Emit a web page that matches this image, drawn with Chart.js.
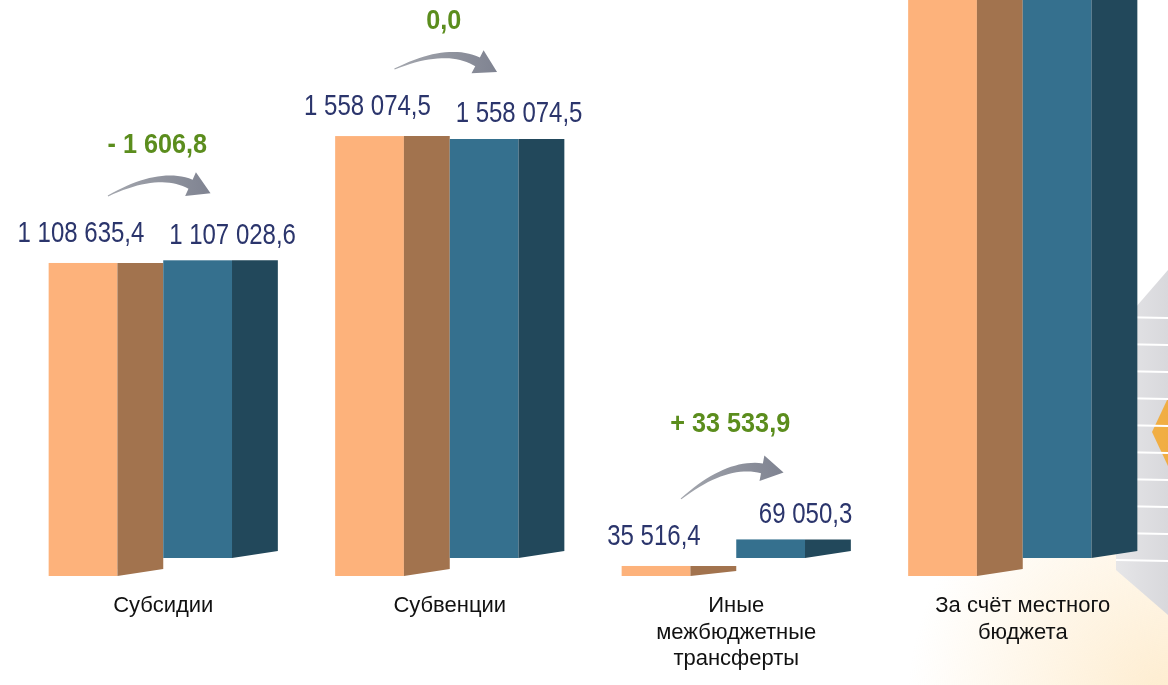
<!DOCTYPE html>
<html>
<head>
<meta charset="utf-8">
<script src="https://cdn.jsdelivr.net/npm/chart.js@4.4.1/dist/chart.umd.min.js"></script>
<style>
  html, body { margin: 0; padding: 0; background: #fff; }
  #wrap { width: 1168px; height: 685px; position: relative; }
</style>
</head>
<body>
<div id="wrap"><canvas id="budgetChart"></canvas></div>
<script>
// categories and values (тыс. руб.)
const categories = [
    ['Субсидии'],
    ['Субвенции'],
    ['Иные', 'межбюджетные', 'трансферты'],
    ['За счёт местного', 'бюджета']
];
const initialValues = [1108635.4, 1558074.5, 35516.4, 2300000];
const revisedValues = [1107028.6, 1558074.5, 69050.3, 2250000];
// last category runs off the top of the slide, no labels shown
const showLabels = [true, true, true, false];

const fmt = v => {
    const s = Math.abs(v).toFixed(1).split('.');
    return s[0].replace(/\B(?=(\d{3})+(?!\d))/g, ' ') + ',' + s[1];
};
const fmtDiff = v => (v > 0 ? '+ ' : v < 0 ? '- ' : '') + fmt(v);

const faces = [
    { front: '#fdb27b', side: '#a2734e' },
    { front: '#35708e', side: '#22485b' }
];

function drawArrow(ctx, x0, y0, x1, y1) {
    const dx = x1 - x0, dy = y1 - y0, len = Math.hypot(dx, dy);
    const nx = dy / len, ny = -dx / len;
    const cx = (x0 + x1) / 2 + nx * 25, cy = (y0 + y1) / 2 + ny * 25;
    let tx = x1 - cx, ty = y1 - cy;
    const tl = Math.hypot(tx, ty); tx /= tl; ty /= tl;
    const ex = x1 - tx * 22, ey = y1 - ty * 22;
    const up = [], lo = [];
    for (let i = 0; i <= 20; i++) {
        const t = i / 20, m = 1 - t;
        const bx = m * m * x0 + 2 * m * t * cx + t * t * ex;
        const by = m * m * y0 + 2 * m * t * cy + t * t * ey;
        let gx = 2 * m * (cx - x0) + 2 * t * (ex - cx);
        let gy = 2 * m * (cy - y0) + 2 * t * (ey - cy);
        const gl = Math.hypot(gx, gy); gx /= gl; gy /= gl;
        const w = (1 + 9 * t) / 2;
        up.push([bx + gy * w, by - gx * w]);
        lo.push([bx - gy * w, by + gx * w]);
    }
    const grad = ctx.createLinearGradient(x0, y0, x1, y1);
    grad.addColorStop(0, '#a4a7ae');
    grad.addColorStop(1, '#7f8391');
    ctx.fillStyle = grad;
    ctx.beginPath();
    ctx.moveTo(up[0][0], up[0][1]);
    up.forEach(p => ctx.lineTo(p[0], p[1]));
    ctx.lineTo(ex + ty * 13, ey - tx * 13);
    ctx.lineTo(x1, y1);
    ctx.lineTo(ex - ty * 13, ey + tx * 13);
    lo.reverse().forEach(p => ctx.lineTo(p[0], p[1]));
    ctx.closePath();
    ctx.fill();
}

function narrowText(ctx, text, x, y, font, color, sx) {
    ctx.save();
    ctx.translate(x, y);
    ctx.scale(sx, 1);
    ctx.font = font;
    ctx.fillStyle = color;
    ctx.textAlign = 'center';
    ctx.textBaseline = 'middle';
    ctx.fillText(text, 0, 0);
    ctx.restore();
}

const decoration = {
    id: 'decoration',
    beforeDraw(chart) {
        const ctx = chart.ctx;
        ctx.save();
        const rg = ctx.createRadialGradient(1168, 700, 10, 1168, 700, 260);
        rg.addColorStop(0, 'rgba(253,222,170,0.55)');
        rg.addColorStop(1, 'rgba(253,222,170,0)');
        ctx.fillStyle = rg;
        ctx.fillRect(900, 430, 268, 255);
        const gg = ctx.createLinearGradient(1115, 0, 1168, 0);
        gg.addColorStop(0, '#e6e6e8');
        gg.addColorStop(1, '#d8d8dc');
        ctx.fillStyle = gg;
        ctx.beginPath();
        ctx.moveTo(1168, 270);
        ctx.lineTo(1116, 330);
        ctx.lineTo(1116, 570);
        ctx.lineTo(1168, 615);
        ctx.closePath();
        ctx.fill();
        ctx.fillStyle = 'rgba(245,166,40,0.85)';
        ctx.beginPath();
        ctx.moveTo(1168, 398);
        ctx.lineTo(1152, 432);
        ctx.lineTo(1168, 466);
        ctx.closePath();
        ctx.fill();
        ctx.strokeStyle = '#ffffff';
        ctx.lineWidth = 2;
        for (let y = 317; y < 570; y += 27) {
            ctx.beginPath();
            ctx.moveTo(1116, y);
            ctx.lineTo(1168, y + 1);
            ctx.stroke();
        }
        ctx.restore();
    }
};

const bars3d = {
    id: 'bars3d',
    afterDatasetsDraw(chart) {
        const ctx = chart.ctx, area = chart.chartArea;
        ctx.save();
        ctx.beginPath();
        ctx.rect(0, area.top, chart.width, area.bottom - area.top + 20);
        ctx.clip();
        chart.data.datasets.forEach((ds, di) => {
            chart.getDatasetMeta(di).data.forEach(bar => {
                const p = bar.getProps(['x', 'y', 'base', 'width'], true);
                const left = p.x - p.width / 2, right = p.x + p.width / 2;
                const split = left + p.width * 0.6;
                const h = p.base - p.y;
                const slant = Math.min(7, h * 0.5);
                ctx.fillStyle = faces[di].front;
                ctx.fillRect(left, p.y, split - left, h);
                ctx.fillStyle = faces[di].side;
                ctx.beginPath();
                ctx.moveTo(split, p.y);
                ctx.lineTo(right, p.y);
                ctx.lineTo(right, p.base - slant);
                ctx.lineTo(split, p.base);
                ctx.closePath();
                ctx.fill();
            });
        });
        ctx.restore();

        // value labels, arrows and differences
        const m0 = chart.getDatasetMeta(0).data, m1 = chart.getDatasetMeta(1).data;
        const valFont = '30px "Liberation Sans", Arial, sans-serif';
        categories.forEach((c, i) => {
            if (!showLabels[i]) return;
            const a = m0[i], b = m1[i];
            const ay = a.y - 29, by = b.y - 25;
            narrowText(ctx, fmt(initialValues[i]), a.x - 25, ay, valFont, '#2b356c', 0.8);
            narrowText(ctx, fmt(revisedValues[i]), b.x + 12, by, valFont, '#2b356c', 0.8);
            const tailX = a.x + 2, tailY = ay - 38;
            const tipX = b.x - 10, tipY = by - 42;
            drawArrow(ctx, tailX, tailY, tipX, tipY);
            const gx = (tailX + tipX) / 2 - 2;
            const gy = Math.min(tailY, tipY) - 48;
            narrowText(ctx, fmtDiff(revisedValues[i] - initialValues[i]), gx, gy,
                'bold 28px "Liberation Sans", Arial, sans-serif', '#5b8d1d', 0.9);
        });
    }
};

new Chart(document.getElementById('budgetChart'), {
    type: 'bar',
    data: {
        labels: categories,
        datasets: [{
            label: 'Первоначальный',
            data: initialValues,
            backgroundColor: 'transparent',
            yAxisID: 'y'
        }, {
            label: 'Уточнённый',
            data: revisedValues,
            backgroundColor: 'transparent',
            yAxisID: 'y2'
        }]
    },
    options: {
        responsive: true,
        maintainAspectRatio: false,
        animation: false,
        layout: { padding: { left: 20, right: 2, top: 0, bottom: 0 } },
        datasets: { bar: { categoryPercentage: 0.8, barPercentage: 1.0 } },
        plugins: { legend: { display: false }, tooltip: { enabled: false } },
        scales: {
            x: {
                grid: { display: false, drawTicks: false },
                border: { display: false },
                ticks: {
                    color: '#111',
                    padding: 17,
                    font: { family: '"Liberation Sans", Arial, sans-serif', size: 22, lineHeight: 1.2 }
                },
                afterFit: s => { s.height = 109; }
            },
            y: { display: false, min: 0, max: 2040000 },
            y2: { display: false, min: -66935, max: 2075000 }
        }
    },
    plugins: [decoration, bars3d]
});
</script>
</body>
</html>
